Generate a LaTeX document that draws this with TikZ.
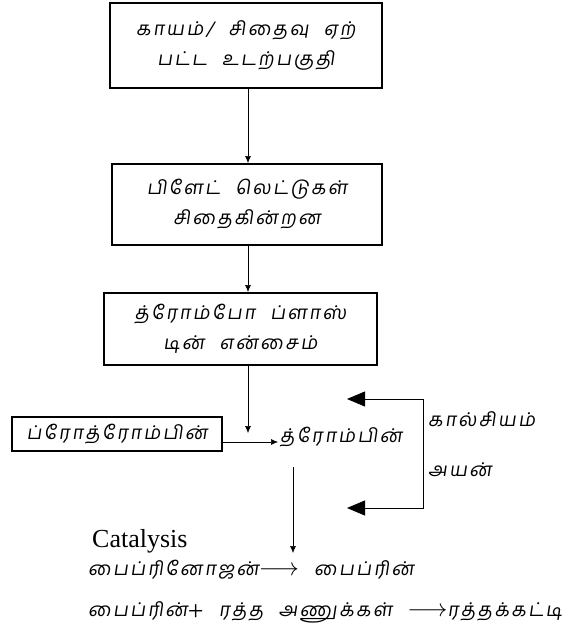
\documentclass[tikz,border=0pt]{standalone}
\usepackage{fontspec}
\setmainfont{Liberation Serif}
\newfontfamily\tamilfont[Script=Tamil,FakeSlant=0.15,LetterSpace=12,WordSpace=2.2]{Hind Madurai}
\usetikzlibrary{arrows.meta}
\tikzset{stepbox/.style={draw, line width=2pt, align=center, inner sep=0pt,
    font=\tamilfont\fontsize{19}{30}\selectfont}}
\tikzset{tamtext/.style={inner sep=0pt, font=\tamilfont\fontsize{19}{20}\selectfont}}
\tikzset{flow/.style={-{Latex[length=7pt,width=6pt]}, line width=0.6pt}}
\tikzset{bigtip/.style={{Triangle[length=18pt,width=15pt]}-{Triangle[length=18pt,width=15pt]}, line width=0.8pt}}
\newcommand{\bigplus}{\raisebox{-4pt}{\rmfamily\fontsize{28}{20}\selectfont +}}
\newcommand{\yields}{{\fontsize{23}{20}\selectfont$\longrightarrow$}}

\begin{document}
\begin{tikzpicture}[x=1pt, y=-1pt]
		\useasboundingbox (0,0) rectangle (571,630);
		\node[stepbox, minimum width=272, minimum height=85] (injury) at (246,45.5) {காயம்/ சிதைவு ஏற்\\பட்ட உடற்பகுதி};
		\node[stepbox, minimum width=270, minimum height=81] (platelet) at (247,204.5) {பிளேட் லெட்டுகள்\\சிதைகின்றன};
		\node[stepbox, minimum width=273, minimum height=72] (thrombo) at (240.5,329) {த்ரோம்போ ப்ளாஸ்\\டின் என்சைம்};
		\node[stepbox, line width=1.4pt, minimum width=210, minimum height=34] (prothr) at (117,434) {ப்ரோத்ரோம்பின்};
		\node[tamtext, anchor=base west] (thrombin) at (280,442) {த்ரோம்பின்};
		\node[tamtext, anchor=west] (calcium) at (428,419) {கால்சியம்};
		\node[tamtext, anchor=west] (ion) at (428,470) {அயன்};
		\node[inner sep=0pt, anchor=base west, font=\fontsize{26}{26}\selectfont] (catalysis) at (92,547) {Catalysis};
		\node[tamtext, anchor=base west] (fibrinogen) at (88,575) {பைப்ரினோஜன்\yields{} பைப்ரின்};
		\node[tamtext, anchor=base west] (clot) at (88,616) {பைப்ரின்\bigplus{} ரத்த அணுக்கள் \yields{}ரத்தக்கட்டி};
		\path (248,0) coordinate (spine);
		\path (248,433) coordinate (drop);
		\path (293,467) coordinate (catTop);
		\path (293,553) coordinate (catTip);
		\path (347,399) coordinate (fbTop);
		\path (423,399) coordinate (fbCorner);
		\path (347,508) coordinate (fbBot);
		\draw[flow] (spine |- injury.south) -- (spine |- platelet.north);
		\draw[flow] (spine |- platelet.south) -- (spine |- thrombo.north);
		\draw[flow] (spine |- thrombo.south) -- (drop);
		\draw[flow] (prothr.east |- thrombin.base) -- ([xshift=-2pt]thrombin.base west);
		\draw[flow] (catTop) -- (catTip);
		\draw[bigtip] (fbTop) -- (fbCorner) |- (fbBot);
\end{tikzpicture}
\end{document}
